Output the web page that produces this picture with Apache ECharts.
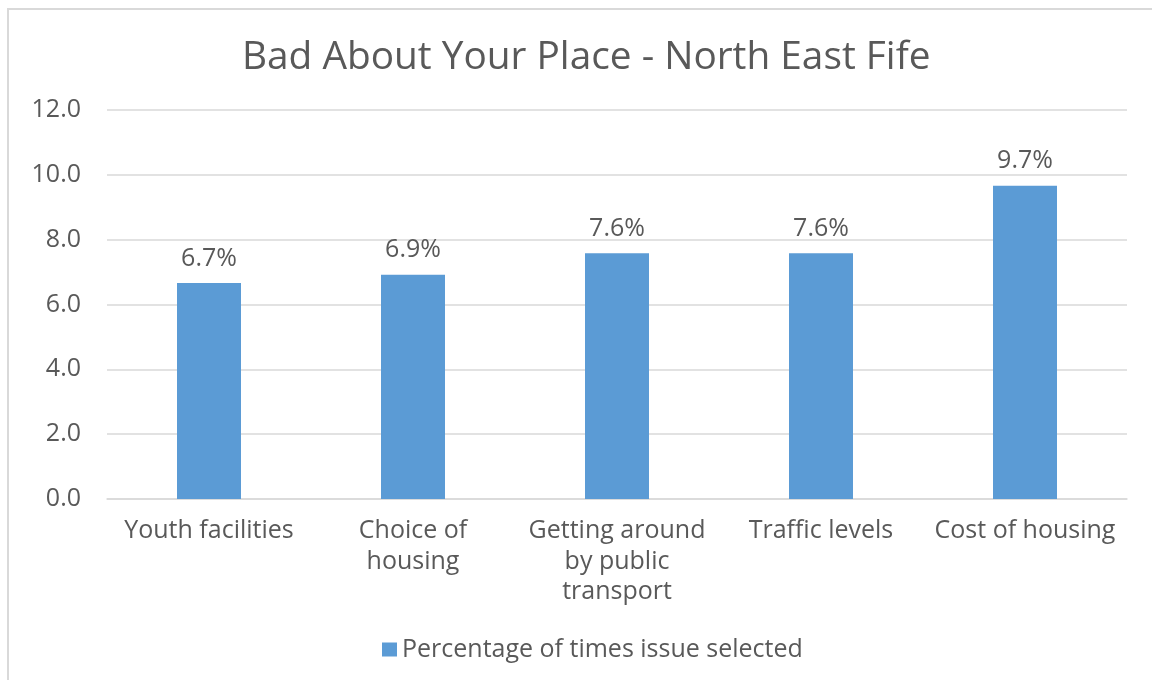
<!DOCTYPE html>
<html>
<head>
<meta charset="utf-8">
<script src="https://cdn.jsdelivr.net/npm/echarts@6/dist/echarts.min.js"></script>
<style>
html,body{margin:0;padding:0;background:#fff;}
#frame{position:absolute;left:7px;top:8px;right:0;bottom:0;border-top:2px solid #d9d9d9;border-left:2px solid #d9d9d9;}
#chart{position:absolute;left:0;top:0;width:1152px;height:680px;}
</style>
</head>
<body>
<div id="frame"></div>
<div id="chart"></div>
<script>
var titleText = 'Bad About Your Place - North East Fife';
var categories = ['Youth facilities', 'Choice of\nhousing', 'Getting around\nby public\ntransport', 'Traffic levels', 'Cost of housing'];
var seriesName = 'Percentage of times issue selected';
var values = [6.66, 6.92, 7.58, 7.58, 9.66];

var font = 'Open Sans';
var chart = echarts.init(document.getElementById('chart'));
chart.setOption({
  backgroundColor: 'transparent',
  animation: false,
  title: {
    text: titleText,
    left: 237,
    top: 33,
    textStyle: {fontFamily: font, fontSize: 38.8, fontWeight: 'normal', color: '#595959'}
  },
  legend: {
    data: [seriesName],
    top: 632,
    left: 377,
    icon: 'rect',
    itemWidth: 15,
    itemHeight: 14,
    itemGap: 9,
    textStyle: {fontFamily: font, fontSize: 25, color: '#595959'}
  },
  grid: {left: 107, right: 25, top: 110, bottom: 181, containLabel: false},
  xAxis: {
    type: 'category',
    data: categories,
    axisLine: {lineStyle: {color: '#d9d9d9', width: 1.5}},
    axisTick: {show: false},
    axisLabel: {fontFamily: font, fontSize: 25, color: '#595959', margin: 17, lineHeight: 30.5, interval: 0}
  },
  yAxis: {
    type: 'value',
    min: 0,
    max: 12,
    interval: 2,
    axisLine: {show: false},
    axisTick: {show: false},
    splitLine: {lineStyle: {color: '#d9d9d9', width: 1.5}},
    axisLabel: {fontFamily: font, fontSize: 25, color: '#595959', margin: 26, formatter: function(v){return v.toFixed(1);}}
  },
  series: [{
    name: seriesName,
    type: 'bar',
    data: values,
    barWidth: 64,
    itemStyle: {color: '#5b9bd5'},
    label: {
      show: true,
      position: 'top',
      distance: 12,
      fontFamily: font,
      fontSize: 25,
      color: '#595959',
      formatter: function(p){return p.value.toFixed(1) + '%';}
    }
  }]
});
</script>
</body>
</html>
